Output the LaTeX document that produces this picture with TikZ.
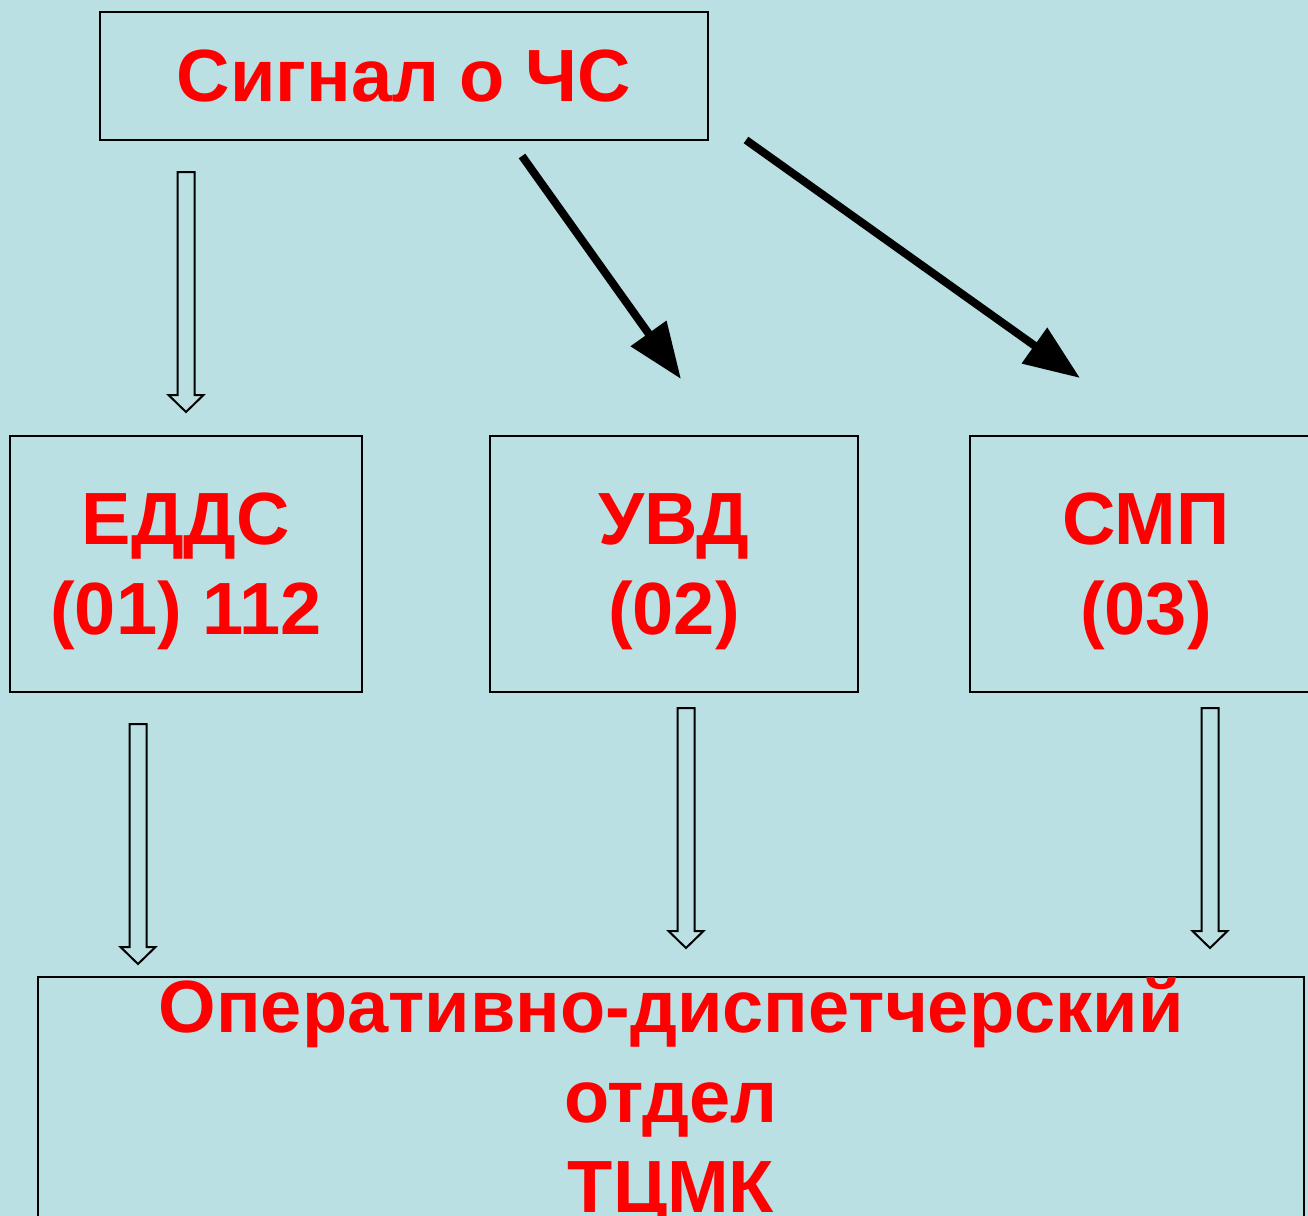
\documentclass[tikz,border=0pt]{standalone}
\usepackage{fontspec}
\setmainfont{Liberation Sans}
\usetikzlibrary{arrows.meta,calc}
\definecolor{bgcyan}{RGB}{187,224,227}
\definecolor{txtred}{RGB}{255,0,0}

\begin{document}
\begin{tikzpicture}[
    x=0.5pt, y=-0.5pt,
    box/.style={
        rectangle, draw, line width=1pt,
        inner sep=0pt, align=center
    },
    lbl/.style={
        text=txtred, align=center,
        font=\fontsize{37pt}{45pt}\selectfont\bfseries
    },
    arr/.style={-{Triangle[length=28pt, width=21pt]}, line width=4pt},
    hollow/.style={
        line width=1pt, line join=miter,
        to path={
            ($(\tikztostart)+(-8.5,0)$) -- ($(\tikztotarget)+(-8.5,-17)$)
            -- ($(\tikztotarget)+(-17.5,-17)$) -- (\tikztotarget)
            -- ($(\tikztotarget)+(17.5,-17)$) -- ($(\tikztotarget)+(8.5,-17)$)
            -- ($(\tikztostart)+(8.5,0)$) -- cycle
        }
    }
]
\useasboundingbox (0,0) rectangle (1308,1216);
\clip (0,0) rectangle (1308,1216);
\fill[bgcyan] (0,0) rectangle (1308,1216);

% boxes
\node[box, lbl, minimum width=304pt, minimum height=64pt] (signal) at (404,76) {Сигнал о ЧС};
\node[box, lbl, text depth=0pt, minimum width=176pt, minimum height=128pt] (edds) at (186,564) {ЕДДС\\(01) 112};
\node[box, lbl, text depth=0pt, minimum width=184pt, minimum height=128pt] (uvd) at (674,564) {УВД\\(02)};
\node[box, lbl, text depth=0pt, minimum width=176pt, minimum height=128pt] (smp) at (1146,564) {СМП\\(03)};
\node[box, minimum width=633pt, minimum height=150pt, anchor=north] (otdel) at (671,976) {};
\node[lbl, anchor=base] (otdeltxt) at (671,1212) {Оперативно-диспетчерский\\отдел\\ТЦМК};

% arrow ends
\coordinate (e1) at (186,172);  \coordinate (e2) at (186,412);
\coordinate (u1) at (522,156);  \coordinate (u2) at (681,379);
\coordinate (s1) at (746,140);  \coordinate (s2) at (1080,378);
\coordinate (d1) at (138,724);  \coordinate (d2) at (138,964);
\coordinate (v1) at (686,708);  \coordinate (v2) at (686,948);
\coordinate (m1) at (1210,708); \coordinate (m2) at (1210,948);

\draw[hollow] (e1) to (e2);
\draw[arr] (u1) -- (u2);
\draw[arr] (s1) -- (s2);
\draw[hollow] (d1) to (d2);
\draw[hollow] (v1) to (v2);
\draw[hollow] (m1) to (m2);
\end{tikzpicture}
\end{document}
